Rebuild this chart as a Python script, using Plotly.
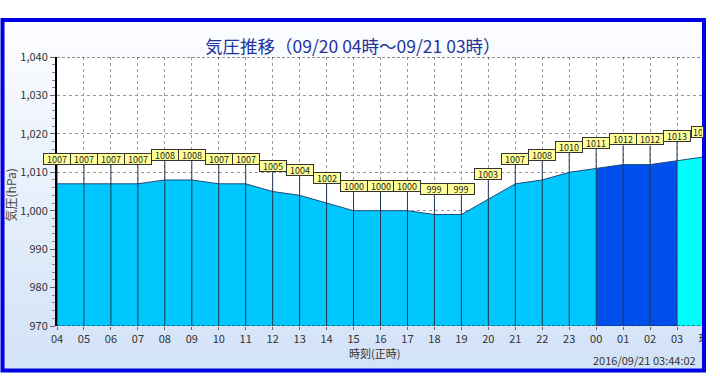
import plotly.graph_objects as go

# ---- data ----
hours = ["04", "05", "06", "07", "08", "09", "10", "11", "12", "13", "14", "15",
         "16", "17", "18", "19", "20", "21", "22", "23", "00", "01", "02", "03", "現"]
pressure = [1007, 1007, 1007, 1007, 1008, 1008, 1007, 1007, 1005, 1004, 1002, 1000,
            1000, 1000, 999, 999, 1003, 1007, 1008, 1010, 1011, 1012, 1012, 1013, 1014]
y_ticks = [970, 980, 990, 1000, 1010, 1020, 1030, 1040]
title_text = "気圧推移（09/20 04時～09/21 03時）"
x_title = "時刻(正時)"
y_title = "気圧(hPa)"
stamp = "2016/09/21 03:44:02"
seg_start_dark = "00"   # dark blue segment starts
seg_start_now = "03"    # bright cyan segment starts

# ---- layout constants ----
W, H = 720, 381
ML, MR, MT, MB = 57, 10, 57, 55
PW, PH = W - ML - MR, H - MT - MB
Y_MIN, Y_MAX = 970, 1040
LABEL_OFF = 5

def px_x(p):
    return (p - ML) / PW

def px_y(p):
    return (H - MB - p) / PH

FONT = "Noto Sans CJK JP"
xs = list(range(len(hours)))
i_dark = hours.index(seg_start_dark)
i_now = hours.index(seg_start_now)

fig = go.Figure()

segments = [
    (0, i_dark, "#00c8ff"),
    (i_dark, i_now, "#0050ee"),
    (i_now, len(hours) - 1, "#00ffff"),
]
for a, b, col in segments:
    fig.add_trace(go.Scatter(
        x=xs[a:b + 1], y=pressure[a:b + 1], mode="lines", fill="tozeroy",
        fillcolor=col, line=dict(width=0, color=col), hoverinfo="skip",
        showlegend=False))

# outline on top of area
fig.add_trace(go.Scatter(x=xs, y=pressure, mode="lines",
                         line=dict(color="#1d4a78", width=1),
                         hoverinfo="skip", showlegend=False))

# vertical lines from bottom up to labels
vx, vy = [], []
for x, v in zip(xs, pressure):
    vx += [x, x, None]
    vy += [Y_MIN, v + LABEL_OFF, None]
fig.add_trace(go.Scatter(x=vx, y=vy, mode="lines",
                         line=dict(color="#23374d", width=1),
                         hoverinfo="skip", showlegend=False))

annotations = []
for i, (x, v) in enumerate(zip(xs, pressure)):
    last = i == len(xs) - 1
    annotations.append(dict(
        x=x, y=v + LABEL_OFF, xref="x", yref="y", text=str(v),
        showarrow=False, yanchor="bottom",
        xanchor="left" if last else "center", xshift=-13 if last else 0,
        width=9 if last else 24, height=8, align="left" if last else "center",
        bgcolor="#ffff99", bordercolor="#333333", borderwidth=1, borderpad=1,
        font=dict(family=FONT, size=9, color="#222222")))

annotations += [
    dict(text=title_text, x=px_x(356), y=px_y(45), xref="paper", yref="paper",
         xanchor="center", yanchor="middle",
         showarrow=False, font=dict(family=FONT, size=17.5, color="#223399")),
    dict(text=y_title, x=px_x(10), y=px_y(195), xref="paper", yref="paper",
         xanchor="center", yanchor="middle",
         showarrow=False, textangle=-90, font=dict(family=FONT, size=12, color="#444444")),
    dict(text=x_title, x=px_x(377), y=px_y(353), xref="paper", yref="paper",
         xanchor="center", yanchor="middle",
         showarrow=False, font=dict(family=FONT, size=11, color="#333333")),
    dict(text=stamp, x=px_x(704), y=px_y(360), xref="paper", yref="paper",
         xanchor="right", yanchor="middle",
         showarrow=False, font=dict(family=FONT, size=11, color="#333333")),
]

shapes = []
# gradient background inside frame
N = 40
top, bot = 20, 371
c0, c1 = (252, 253, 255), (210, 226, 247)
for k in range(N):
    t = k / (N - 1)
    col = "rgb(%d,%d,%d)" % tuple(round(c0[j] + (c1[j] - c0[j]) * t) for j in range(3))
    y0p = top + (bot - top) * k / N
    y1p = top + (bot - top) * (k + 1) / N + 0.5
    shapes.append(dict(type="rect", xref="paper", yref="paper", layer="below",
                       x0=px_x(2), x1=px_x(710), y0=px_y(y1p), y1=px_y(y0p),
                       fillcolor=col, line=dict(width=0)))
# white plot area
shapes.append(dict(type="rect", xref="paper", yref="paper", layer="below",
                   x0=0, x1=1, y0=0, y1=1, fillcolor="white", line=dict(width=0)))
# dashed top & bottom border lines
for yv in (Y_MIN, Y_MAX):
    shapes.append(dict(type="line", xref="paper", yref="y", layer="above",
                       x0=0, x1=1, y0=yv, y1=yv,
                       line=dict(color="#222222", width=1, dash="3px,2px")))
# cover right of frame
shapes.append(dict(type="rect", xref="paper", yref="paper", layer="above",
                   x0=px_x(711), x1=px_x(722), y0=px_y(382), y1=px_y(0),
                   fillcolor="white", line=dict(width=0)))
# blue frame
shapes.append(dict(type="rect", xref="paper", yref="paper", layer="above",
                   x0=px_x(2), x1=px_x(710), y0=px_y(370.5), y1=px_y(20),
                   fillcolor="rgba(0,0,0,0)", line=dict(color="#0000e6", width=4)))

fig.update_layout(
    width=W, height=H, autosize=False,
    margin=dict(l=ML, r=MR, t=MT, b=MB),
    paper_bgcolor="white", plot_bgcolor="white",
    showlegend=False,
    annotations=annotations, shapes=shapes,
    xaxis=dict(range=[0, len(hours) - 1], tickvals=xs, ticktext=hours,
               showgrid=True, gridcolor="#9a9a9a", griddash="3px,3px", gridwidth=1,
               zeroline=False, showline=False, ticks="outside", ticklen=3,
               tickcolor="#666666",
               tickfont=dict(family=FONT, size=11, color="#333333")),
    yaxis=dict(range=[Y_MIN, Y_MAX], tickvals=y_ticks, tickformat=",d",
               showgrid=True, gridcolor="#9a9a9a", griddash="3px,3px", gridwidth=1,
               zeroline=False, showline=True, linecolor="#000000", linewidth=2,
               ticks="outside", ticklen=5, tickcolor="#666666",
               minor=dict(dtick=2, ticks="outside", ticklen=3, tickcolor="#888888",
                          showgrid=False),
               tickfont=dict(family=FONT, size=11, color="#333333")),
)

fig.write_html(
    "out.html",
    config={"displayModeBar": False},
    post_script="document.body.style.margin='0';document.body.style.overflow='hidden';",
)
